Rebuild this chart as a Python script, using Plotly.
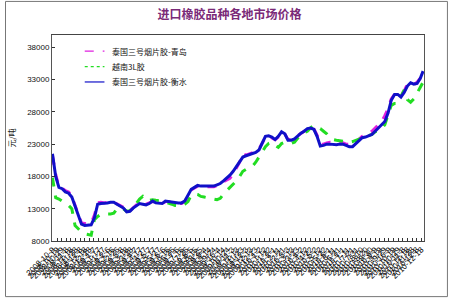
import plotly.graph_objects as go

dates = [
    "2008-10-09", "2008-10-16", "2008-10-23", "2008-10-30", "2008-11-06", "2008-11-13", "2008-11-20", "2008-11-27",
    "2008-12-04", "2008-12-11", "2008-12-18", "2008-12-25", "2009-01-01", "2009-01-08", "2009-01-15", "2009-01-22",
    "2009-01-29", "2009-02-05", "2009-02-12", "2009-02-19", "2009-02-26", "2009-03-05", "2009-03-12", "2009-03-19",
    "2009-03-26", "2009-04-02", "2009-04-09", "2009-04-16", "2009-04-23", "2009-04-30", "2009-05-07", "2009-05-14",
    "2009-05-21", "2009-05-28", "2009-06-04", "2009-06-11", "2009-06-18", "2009-06-25", "2009-07-02", "2009-07-09",
    "2009-07-16", "2009-07-23", "2009-07-30", "2009-08-06", "2009-08-13", "2009-08-20", "2009-08-27", "2009-09-03",
    "2009-09-10", "2009-09-17", "2009-09-24", "2009-10-01", "2009-10-08", "2009-10-15", "2009-10-22", "2009-10-29",
    "2009-11-05", "2009-11-12", "2009-11-19", "2009-11-26", "2009-12-03", "2009-12-10", "2009-12-17", "2009-12-24",
    "2009-12-31", "2010-01-07", "2010-01-14", "2010-01-21", "2010-01-28", "2010-02-04", "2010-02-11", "2010-02-18",
    "2010-02-25", "2010-03-04", "2010-03-11", "2010-03-18", "2010-03-25", "2010-04-01", "2010-04-08", "2010-04-15",
    "2010-04-22", "2010-04-29", "2010-05-06", "2010-05-13", "2010-05-20", "2010-05-27", "2010-06-03", "2010-06-10",
    "2010-06-17", "2010-06-24", "2010-07-01", "2010-07-08", "2010-07-15", "2010-07-22", "2010-07-29", "2010-08-05",
    "2010-08-12", "2010-08-19", "2010-08-26", "2010-09-02", "2010-09-09", "2010-09-16", "2010-09-23", "2010-09-30",
    "2010-10-07", "2010-10-14", "2010-10-21", "2010-10-28", "2010-11-04", "2010-11-11", "2010-11-18", "2010-11-25",
    "2010-12-02", "2010-12-09", "2010-12-16", "2010-12-22",
]

# 泰国三号烟片胶-青岛
qingdao = [
    21200, 18300, 16400, 16200, 15800, 15600, 14900, 13600, 12100, 10800, 10700, 10600, 10800, 12000, 13900, 14000,
    13900, 14000, 14100, 14000, 13800, 13500, 13200, 12600, 12700, 13200, 13600, 13900, 13800, 13700, 13900, 14100,
    13900, 13800, 13800, 14100, 14100, 13900, 13800, 13800, 13800, 14100, 15000, 15900, 16200, 16500, 16400, 16400,
    16500, 16400, 16400, 16600, 16800, 17200, 17500, 17700, 18400, 19300, 20200, 21500, 21300, 21500, 21600, 21800,
    22200, 23200, 24100, 24200, 24000, 23700, 24100, 24800, 24600, 23700, 23700, 23900, 24300, 24700, 25000, 25300,
    25500, 25400, 24400, 23000, 23000, 23200, 23300, 23200, 23200, 23200, 23200, 23000, 22900, 22900, 23300, 23800,
    24200, 24400, 24700, 25000, 25500, 26000, 26500, 27400, 28500, 30000, 30700, 30800, 30600, 31200, 32300, 32300,
    32200, 32600, 33200, 34200,
]

# 越南3L胶
vietnam3l = [
    17800, 14700, 14500, 14200, 13900, 13500, 13000, 10400, 9900, 9400, 9100, 9000, 8900, 11300, 11800, 12100,
    12200, 12200, 12200, 12300, 13000, 13200, 13000, 12600, 12700, 13100, 13800, 14500, 14900, 14300, 14300, 14400,
    14300, 14300, 14200, 14000, 13900, 13700, 13500, 13400, 13400, 13700, 14100, 15100, 15300, 15200, 14900, 14800,
    14700, 14600, 14500, 14400, 14600, 15300, 15800, 16300, 16800, 17300, 18000, 18800, 19100, 19300, 19600, 20200,
    20900, 21800, 22600, 23100, 23300, 22800, 22500, 23100, 23300, 23200, 23100, 23300, 24000, 24500, 24800, 25000,
    25500, 25900, 25600, 25400, 25000, 24600, 24000, 23700, 23600, 23500, 23500, 23400, 23300, 23400, 23600, 23800,
    24000, 24100, 24300, 24500, 24900, 25200, 25400, 26000, 27500, 29000, 29300, 29300, 30400, 31400, 29900, 29500,
    30000, 30800, 31800, 32600,
]

# 泰国三号烟片胶-衡水
hengshui = [
    21500, 18000, 16300, 16100, 15600, 15400, 14800, 13500, 12000, 10600, 10400, 10400, 10500, 11600, 13700, 13800,
    13800, 13900, 14000, 14000, 13700, 13400, 13100, 12500, 12600, 13100, 13500, 13800, 13700, 13600, 13800, 14200,
    13900, 13800, 13800, 14200, 14100, 14000, 13900, 13900, 13900, 14200, 15100, 16000, 16300, 16600, 16500, 16500,
    16600, 16500, 16500, 16700, 16900, 17300, 17700, 18200, 18800, 19500, 20300, 21000, 21200, 21400, 21500, 21700,
    22100, 23200, 24200, 24300, 24100, 23700, 24200, 24900, 24600, 23600, 23600, 23800, 24300, 24700, 25000, 25400,
    25500, 25300, 24200, 22700, 22800, 23000, 23000, 22900, 22900, 23000, 23000, 22800, 22600, 22600, 23100, 23600,
    24000, 24100, 24300, 24500, 25000, 25500, 26000, 26500, 27800, 29800, 30700, 30700, 30300, 31000, 32000, 32500,
    32300, 32400, 33200, 34300,
]

series_names = ["泰国三号烟片胶-青岛", "越南3L胶", "泰国三号烟片胶-衡水"]
series_colors = ["#E020E0", "#22DD22", "#1010C8"]
series_dash = ["dash", "dot", "solid"]
series_values = [qingdao, vietnam3l, hengshui]

fig = go.Figure()
for name, vals, color, dash in zip(series_names, series_values, series_colors, ["dash", "dash", "solid"]):
    fig.add_trace(go.Scatter(x=dates, y=vals, name=name, mode="lines", showlegend=False,
                             line=dict(color=color, width=3, dash=dash)))

# manual legend (compact spacing like the original)
legend_y = [0.922, 0.846, 0.772]
for i, name in enumerate(series_names):
    fig.add_shape(type="line", xref="paper", yref="paper", x0=0.088, x1=0.141, y0=legend_y[i], y1=legend_y[i],
                  line=dict(color=series_colors[i], width=1.2, dash=series_dash[i]))
    fig.add_annotation(xref="paper", yref="paper", x=0.157, y=legend_y[i], text=name, showarrow=False,
                       xanchor="left", yanchor="middle",
                       font=dict(family="Noto Sans CJK SC", size=8, color="#111"))

fig.update_layout(
    width=450, height=300,
    margin=dict(l=49, r=26, t=35, b=59),
    paper_bgcolor="white", plot_bgcolor="white",
    title=dict(text="<b>进口橡胶品种各地市场价格</b>", x=0.51, xanchor="center", y=0.95, yanchor="middle",
               font=dict(family="Noto Sans CJK SC", size=12, color="#7A2A78")),
    showlegend=False,
    font=dict(family="Liberation Sans", color="#111"),
)

fig.update_xaxes(
    type="date",
    range=["2008-10-08", "2010-12-24"],
    tick0="2008-10-09", dtick=10 * 86400000,
    tickformat="%Y-%-m-%-d", tickangle=-45,
    tickfont=dict(family="Liberation Sans", size=8, color="#000"),
    ticks="inside", ticklen=3, tickcolor="#333",
    showline=True, linecolor="#444", linewidth=1, mirror=True,
    showgrid=False, zeroline=False,
)
fig.update_yaxes(
    range=[8000, 39900],
    tickvals=[8000, 13000, 18000, 23000, 28000, 33000, 38000],
    tickformat="d",
    tickfont=dict(family="Liberation Sans", size=8, color="#111"),
    ticks="inside", ticklen=3, tickcolor="#333",
    showline=True, linecolor="#555", linewidth=1, mirror=True,
    showgrid=False, zeroline=False,
    title=dict(text="元/吨", font=dict(family="Noto Sans CJK SC", size=8, color="#222"), standoff=10),
)

fig.add_shape(type="rect", xref="paper", yref="paper", x0=-0.125, x1=1.063, y0=-0.27, y1=1.163,
              line=dict(color="#777", width=1), fillcolor="rgba(0,0,0,0)", layer="below")

fig.write_html("out.html")
